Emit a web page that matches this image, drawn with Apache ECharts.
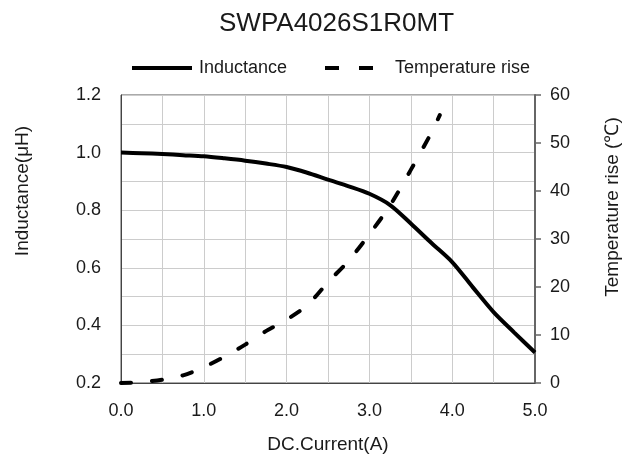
<!DOCTYPE html>
<html>
<head>
<meta charset="utf-8">
<script src="https://cdn.jsdelivr.net/npm/echarts@6/dist/echarts.min.js"></script>
<style>
html,body{margin:0;padding:0;background:#fff;overflow:hidden;}
#chart{width:630px;height:459px;}
</style>
</head>
<body>
<div id="chart"></div>
<script>
// ---- data ----
const titleText = 'SWPA4026S1R0MT';
const seriesNames = ['Inductance', 'Temperature rise'];
const inductanceCurrent = [0, 0.25, 0.5, 0.75, 1.0, 1.25, 1.5, 1.75, 2.0, 2.25, 2.5, 2.75, 3.0, 3.25, 3.5, 3.75, 4.0, 4.25, 4.5, 4.75, 5.0];
const inductanceValues = [1.0, 0.998, 0.995, 0.991, 0.987, 0.980, 0.972, 0.962, 0.950, 0.930, 0.906, 0.883, 0.857, 0.818, 0.754, 0.686, 0.620, 0.532, 0.446, 0.375, 0.306];
const tempCurrent = [0, 0.25, 0.5, 0.75, 1.0, 1.25, 1.5, 1.75, 2.0, 2.25, 2.5, 2.75, 3.0, 3.25, 3.5, 3.75, 3.85];
const tempValues = [0, 0.2, 0.7, 1.6, 3.3, 5.5, 8.0, 10.8, 13.2, 16.2, 21.0, 25.5, 31.0, 37.0, 44.4, 52.2, 55.8];
const xAxisName = 'DC.Current(A)';
const yLeftName = 'Inductance(μH)';
const yRightName = 'Temperature rise (℃)';

const FONT = 'Liberation Sans, Arial, sans-serif';
const TXT = '#1a1a1a';

const indData = inductanceCurrent.map((x, i) => [x, inductanceValues[i]]);
const tmpData = tempCurrent.map((x, i) => [x, tempValues[i]]);

const chart = echarts.init(document.getElementById('chart'), null, {width: 630, height: 459});
chart.setOption({
  animation: false,
  backgroundColor: '#fff',
  title: {
    text: titleText,
    left: 214, top: 6,
    textStyle: {fontFamily: FONT, fontSize: 26, fontWeight: 'normal', color: TXT}
  },
  legend: [
    {
      data: [seriesNames[0]], left: 127, top: 54,
      itemWidth: 60, itemHeight: 4,
      icon: 'path://M0,0h60v4h-60z',
      itemStyle: {color: '#000'},
      textStyle: {fontFamily: FONT, fontSize: 18, color: TXT, padding: [0, 0, 0, 2]}
    },
    {
      data: [seriesNames[1]], left: 320, top: 54,
      itemWidth: 48, itemHeight: 4,
      icon: 'path://M0,0h14v4h-14z M34,0h14v4h-14z',
      itemStyle: {color: '#000'},
      textStyle: {fontFamily: FONT, fontSize: 18, color: TXT, padding: [0, 0, 0, 17]}
    }
  ],
  grid: {
    left: 121, right: 87, top: 95, bottom: 73,
    show: true, borderColor: '#555', borderWidth: 1
  },
  xAxis: {
    type: 'value', min: 0, max: 5, interval: 0.5,
    name: xAxisName, nameLocation: 'middle', nameGap: 52,
    nameTextStyle: {fontFamily: FONT, fontSize: 19, color: TXT},
    axisLine: {show: true, lineStyle: {color: '#444', width: 1}},
    axisTick: {show: false},
    axisLabel: {
      fontFamily: FONT, fontSize: 18, color: TXT, margin: 19,
      formatter: v => (Math.round(v * 2) % 2 === 0 ? v.toFixed(1) : '')
    },
    splitLine: {show: true, lineStyle: {color: '#cccccc', width: 1}}
  },
  yAxis: [
    {
      type: 'value', min: 0.2, max: 1.2, interval: 0.1, position: 'left',
      name: yLeftName, nameLocation: 'middle', nameGap: 89,
      nameTextStyle: {fontFamily: FONT, fontSize: 19, color: TXT, padding: [0, 0, 0, 96]},
      axisLine: {show: true, lineStyle: {color: '#444', width: 1}},
      axisTick: {show: false},
      axisLabel: {
        fontFamily: FONT, fontSize: 18, color: TXT, margin: 20,
        formatter: v => (Math.round(v * 10) % 2 === 0 ? v.toFixed(1) : '')
      },
      splitLine: {show: true, lineStyle: {color: '#cccccc', width: 1}}
    },
    {
      type: 'value', min: 0, max: 60, interval: 10, position: 'right',
      name: yRightName, nameLocation: 'middle', nameGap: 68,
      nameTextStyle: {fontFamily: FONT, fontSize: 19, color: TXT, padding: [0, 0, 0, 64]},
      axisLine: {show: true, lineStyle: {color: '#666', width: 2}},
      axisTick: {show: true, inside: false, length: 6, lineStyle: {color: '#666', width: 1.5}},
      axisLabel: {fontFamily: FONT, fontSize: 18, color: TXT, margin: 15},
      splitLine: {show: false}
    }
  ],
  series: [
    {
      name: seriesNames[0], type: 'line', yAxisIndex: 0,
      data: indData, smooth: 0.3, symbol: 'none', showSymbol: false,
      lineStyle: {color: '#000', width: 4}, itemStyle: {color: '#000'}
    },
    {
      name: seriesNames[1], type: 'line', yAxisIndex: 1,
      data: tmpData, smooth: 0.3, symbol: 'none', showSymbol: false,
      lineStyle: {color: '#000', width: 4, type: [10, 21], cap: 'round'}, itemStyle: {color: '#000'}
    }
  ]
});
</script>
</body>
</html>
